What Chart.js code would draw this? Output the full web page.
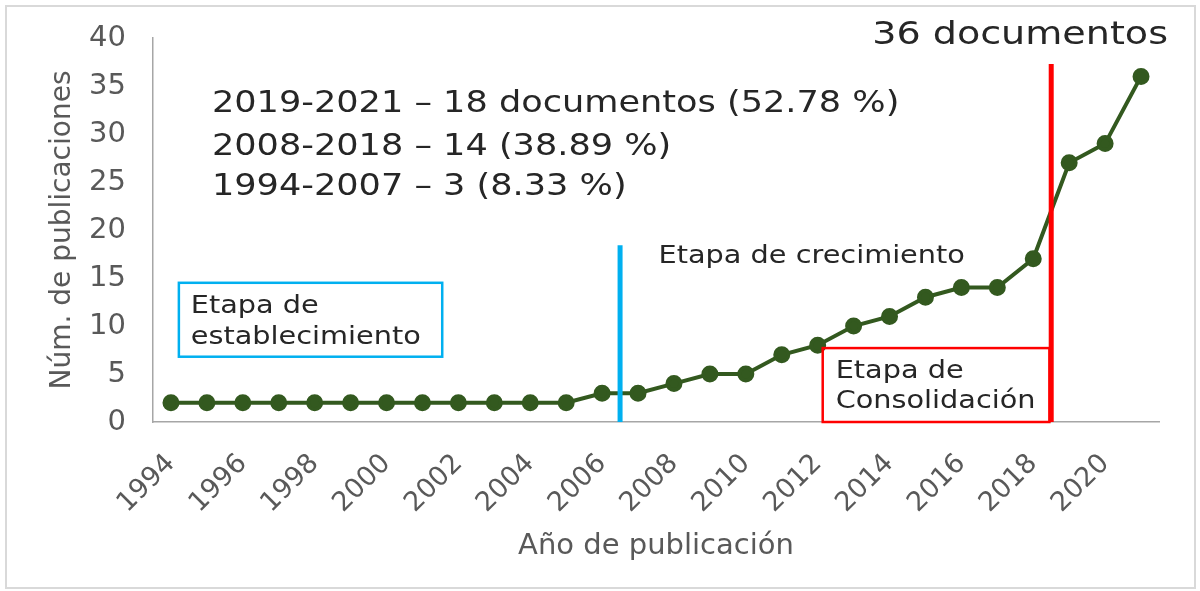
<!DOCTYPE html>
<html>
<head>
<meta charset="utf-8">
<script src="https://cdn.jsdelivr.net/npm/chart.js@4.4.1/dist/chart.umd.min.js"></script>
<style>
html,body{margin:0;padding:0;background:#fff;}
#wrap{width:1200px;height:591px;position:relative;}
</style>
</head>
<body>
<div id="wrap"><canvas id="c" width="1200" height="591"></canvas></div>
<script>
// ---- data ----
const years = ['1994','1995','1996','1997','1998','1999','2000','2001','2002','2003','2004','2005','2006','2007','2008','2009','2010','2011','2012','2013','2014','2015','2016','2017','2018','2019','2020','2021'];
const publications = [2,2,2,2,2,2,2,2,2,2,2,2,3,3,4,5,5,7,8,10,11,13,14,14,17,27,29,36];
const yTicks = [0,5,10,15,20,25,30,35,40];
const summaryLines = ['2019-2021 \u2013 18 documentos (52.78 %)','2008-2018 \u2013 14 (38.89 %)','1994-2007 \u2013 3 (8.33 %)'];
const totalLabel = '36 documentos';
const stageLabels = {est:['Etapa de','establecimiento'], crec:['Etapa de crecimiento'], cons:['Etapa de','Consolidaci\u00f3n']};

const FONT = "'DejaVu Sans', Verdana, sans-serif";
const TXT = '#262626';
const GRAY = '#595959';

function stretchText(ctx, text, x, y, size, stretch, align){
  ctx.save();
  ctx.font = size + "px " + FONT;
  ctx.textAlign = 'left';
  const w = ctx.measureText(text).width * stretch;
  let x0 = align === 'right' ? x - w : x;
  ctx.translate(x0, y);
  ctx.scale(stretch, 1);
  ctx.fillText(text, 0, 0);
  ctx.restore();
}

const annotPlugin = {
  id:'annot',
  beforeDraw(chart){
    const ctx = chart.ctx;
    ctx.save();
    ctx.fillStyle='#fff';
    ctx.fillRect(0,0,chart.width,chart.height);
    ctx.strokeStyle='#d9d9d9';
    ctx.lineWidth=2;
    ctx.strokeRect(6,6,chart.width-11,chart.height-9);
    ctx.restore();
  },
  afterDatasetsDraw(chart){
    const ctx = chart.ctx;
    const xs = chart.scales.x, ys = chart.scales.y;
    const px = i => xs.getPixelForValue(i);
    const py = v => ys.getPixelForValue(v);
    ctx.save();
    // blue vertical line between 2006 and 2007
    ctx.strokeStyle='#00B0F0'; ctx.lineWidth=5;
    ctx.beginPath(); ctx.moveTo(px(12.5),py(18.4)); ctx.lineTo(px(12.5),py(0)); ctx.stroke();
    // red vertical line between 2018 and 2019
    ctx.strokeStyle='#FF0000';
    ctx.beginPath(); ctx.moveTo(px(24.5),py(37.3)); ctx.lineTo(px(24.5),py(0)); ctx.stroke();
    // blue box
    ctx.strokeStyle='#00B0F0'; ctx.lineWidth=2.5;
    ctx.strokeRect(px(0.22),py(14.5),px(7.55)-px(0.22),py(6.8)-py(14.5));
    // red box
    ctx.strokeStyle='#FF0000'; ctx.lineWidth=2.5;
    ctx.strokeRect(px(18.14),py(7.7),px(24.45)-px(18.14),py(0)-py(7.7));
    // texts
    ctx.fillStyle=TXT; ctx.textBaseline='alphabetic';
    stretchText(ctx, stageLabels.est[0], px(0.55), py(11.4), 25, 1.15);
    stretchText(ctx, stageLabels.est[1], px(0.55), py(8.15), 25, 1.15);
    stretchText(ctx, stageLabels.crec[0], px(13.57), py(16.6), 25, 1.15);
    stretchText(ctx, stageLabels.cons[0], px(18.5), py(4.6), 25, 1.15);
    stretchText(ctx, stageLabels.cons[1], px(18.5), py(1.45), 25, 1.15);
    const base=[32.3,27.8,23.6];
    summaryLines.forEach((t,k)=>stretchText(ctx, t, px(1.14), py(base[k]), 30, 1.17));
    stretchText(ctx, totalLabel, px(27.75), py(39.4), 32, 1.19, 'right');
    ctx.restore();
  }
};

new Chart(document.getElementById('c'),{
  type:'line',
  data:{labels:years,datasets:[{
    data:publications,
    borderColor:'#33591f',backgroundColor:'#33591f',
    borderWidth:4,pointRadius:6.5,pointHoverRadius:6.5,
    pointBackgroundColor:'#33591f',pointBorderColor:'#33591f',
    tension:0,fill:false
  }]},
  options:{
    responsive:false,animation:false,devicePixelRatio:1,
    layout:{padding:{left:8,right:41,top:38,bottom:0}},
    plugins:{legend:{display:false},tooltip:{enabled:false},title:{display:false}},
    scales:{
      x:{
        offset:true,
        grid:{display:false,drawTicks:false},
        border:{display:true,color:'#a6a6a6',width:1.5},
        ticks:{autoSkip:false,maxRotation:45,minRotation:45,padding:26,color:GRAY,
          font:{family:FONT,size:27},
          callback:function(v,i){return i%2===0?years[i]:'';}},
        title:{display:true,text:'A\u00f1o de publicaci\u00f3n',color:GRAY,font:{family:FONT,size:29},padding:{top:27,bottom:27}},
        afterFit(s){s.height=169;s.paddingLeft=0;s.paddingRight=0;}
      },
      y:{
        min:0,max:40,
        grid:{display:false,drawTicks:false},
        border:{display:true,color:'#a6a6a6',width:1.5},
        afterBuildTicks(s){s.ticks=yTicks.map(v=>({value:v}));},
        ticks:{padding:27,color:GRAY,font:{family:FONT,size:29}},
        title:{display:true,text:'N\u00fam. de publicaciones',color:GRAY,font:{family:FONT,size:28},padding:{top:38,bottom:38}},
        afterFit(s){s.width=145;s.paddingTop=0;s.paddingBottom=0;}
      }
    }
  },
  plugins:[annotPlugin]
});
</script>
</body>
</html>
